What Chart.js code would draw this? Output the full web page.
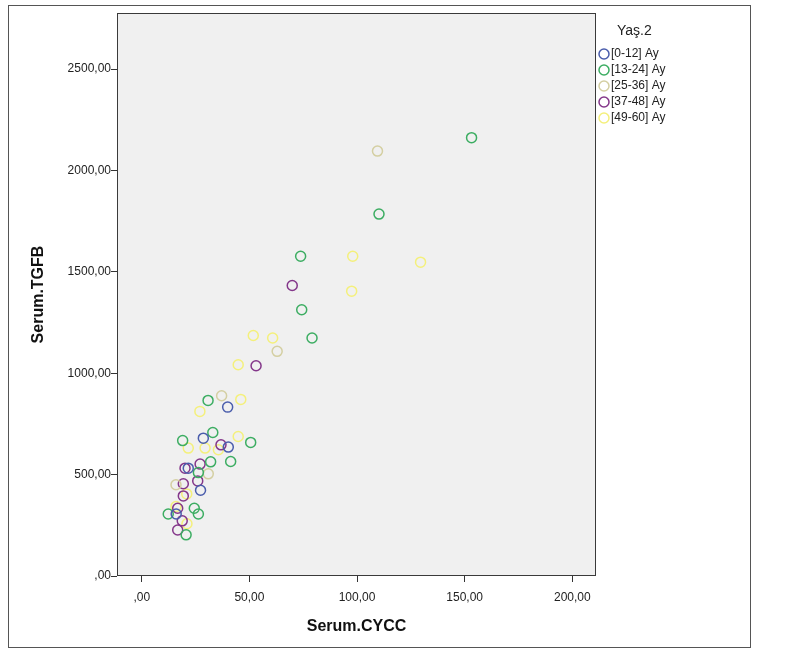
<!DOCTYPE html>
<html>
<head>
<meta charset="utf-8">
<script src="https://cdn.jsdelivr.net/npm/chart.js@4"></script>
<style>
  body { margin: 0; background: #fff; }
  #wrap { width: 786px; height: 652px; }
</style>
</head>
<body>
<div id="wrap"><canvas id="myChart" width="786" height="652"></canvas></div>
<script>
  // Yaş.2 groups (Serum.CYCC, Serum.TGFB)
  const groupLabels = ["[0-12] Ay", "[13-24] Ay", "[25-36] Ay", "[37-48] Ay", "[49-60] Ay"];
  const groupColors = ["#4a5dac", "#3cad62", "#d4cfa2", "#84378a", "#f4f07c"];

  const ay0_12 = [
    { x: 39.9, y: 833 }, { x: 28.6, y: 680 }, { x: 40.2, y: 636 },
    { x: 21.6, y: 532 }, { x: 27.3, y: 423 }, { x: 16.0, y: 306 },
  ];
  const ay13_24 = [
    { x: 153.2, y: 2162 }, { x: 110.2, y: 1785 }, { x: 73.8, y: 1577 },
    { x: 74.3, y: 1313 }, { x: 79.1, y: 1174 }, { x: 30.8, y: 866 },
    { x: 33.0, y: 708 }, { x: 19.0, y: 668 }, { x: 50.6, y: 659 },
    { x: 32.0, y: 563 }, { x: 41.3, y: 565 }, { x: 26.3, y: 510 },
    { x: 12.3, y: 306 }, { x: 24.4, y: 334 }, { x: 26.3, y: 306 },
    { x: 20.6, y: 203 },
  ];
  const ay25_36 = [
    { x: 109.5, y: 2096 }, { x: 62.9, y: 1108 }, { x: 37.1, y: 889 },
    { x: 30.9, y: 504 }, { x: 15.9, y: 450 },
  ];
  const ay37_48 = [
    { x: 69.9, y: 1433 }, { x: 53.1, y: 1037 }, { x: 36.8, y: 647 },
    { x: 20.1, y: 532 }, { x: 27.1, y: 552 }, { x: 26.0, y: 469 },
    { x: 19.3, y: 455 }, { x: 19.3, y: 395 }, { x: 16.7, y: 334 },
    { x: 18.8, y: 272 }, { x: 16.7, y: 227 },
  ];
  const ay49_60 = [
    { x: 98.0, y: 1577 }, { x: 129.5, y: 1548 }, { x: 97.5, y: 1405 },
    { x: 60.8, y: 1174 }, { x: 51.8, y: 1186 }, { x: 44.8, y: 1042 },
    { x: 46.0, y: 871 }, { x: 27.0, y: 812 }, { x: 21.6, y: 631 },
    { x: 29.4, y: 631 }, { x: 35.6, y: 623 }, { x: 44.8, y: 688 },
    { x: 20.9, y: 405 }, { x: 15.9, y: 343 }, { x: 21.0, y: 258 },
  ];

  const xTicks = [0, 50, 100, 150, 200];
  const yTicks = [0, 500, 1000, 1500, 2000, 2500];

  const fmt = (v) => (v === 0 ? ",00" : v.toFixed(2).replace(".", ","));
  const font = "'Liberation Sans', Arial, sans-serif";

  // plot background, frames and the Yaş.2 legend
  const spssFrame = {
    id: "spssFrame",
    beforeDraw(chart) {
      const { ctx, chartArea: a } = chart;
      ctx.save();
      ctx.fillStyle = "#ffffff";
      ctx.fillRect(0, 0, chart.width, chart.height);
      ctx.fillStyle = "#f0f0f0";
      ctx.fillRect(a.left, a.top, a.right - a.left, a.bottom - a.top);
      ctx.restore();
    },
    afterDraw(chart) {
      const { ctx, chartArea: a } = chart;
      ctx.save();
      ctx.strokeStyle = "#3a3a3a";
      ctx.lineWidth = 1;
      ctx.strokeRect(a.left + 0.5, a.top + 0.5, a.right - a.left - 1, a.bottom - a.top - 1);
      ctx.strokeStyle = "#555";
      ctx.strokeRect(8.5, 5.5, 742, 642);

      ctx.fillStyle = "#222";
      ctx.textBaseline = "middle";
      ctx.textAlign = "left";
      ctx.font = "14px " + font;
      ctx.fillText("Yaş.2", 617, 31);
      ctx.font = "12px " + font;
      chart.data.datasets.forEach((ds, i) => {
        const y = 54 + i * 16;
        ctx.beginPath();
        ctx.arc(604, y, 5, 0, Math.PI * 2);
        ctx.strokeStyle = ds.borderColor;
        ctx.lineWidth = 1.5;
        ctx.stroke();
        ctx.fillStyle = "#222";
        ctx.fillText(ds.label, 611, y);
      });
      ctx.restore();
    },
  };

  const groups = [ay0_12, ay13_24, ay25_36, ay37_48, ay49_60];

  new Chart(document.getElementById("myChart"), {
    type: "scatter",
    data: {
      datasets: groups.map((g, i) => ({
        label: groupLabels[i],
        data: g,
        borderColor: groupColors[i],
        backgroundColor: "rgba(0,0,0,0)",
        borderWidth: 1.5,
        pointRadius: 5,
        pointHoverRadius: 5,
      })),
    },
    options: {
      responsive: false,
      animation: false,
      layout: { padding: { left: 0, top: 13, right: 190, bottom: 0 } },
      plugins: {
        legend: { display: false },
        tooltip: { enabled: false },
      },
      scales: {
        x: {
          type: "linear",
          min: -11.5,
          max: 211,
          afterBuildTicks: (axis) => { axis.ticks = xTicks.map((v) => ({ value: v })); },
          afterFit: (axis) => { axis.height = 76; },
          grid: { drawOnChartArea: false, drawTicks: true, tickLength: 6, color: "#333" },
          border: { display: false },
          ticks: {
            callback: (v) => fmt(v),
            color: "#222",
            padding: 8,
            maxRotation: 0,
            font: { family: font, size: 12 },
          },
          title: {
            display: true,
            text: "Serum.CYCC",
            color: "#111",
            font: { family: font, size: 16, weight: "bold" },
            padding: { top: 0, bottom: 16 },
          },
        },
        y: {
          type: "linear",
          min: 0,
          max: 2777,
          afterBuildTicks: (axis) => { axis.ticks = yTicks.map((v) => ({ value: v })); },
          afterFit: (axis) => { axis.width = 117; },
          grid: { drawOnChartArea: false, drawTicks: true, tickLength: 6, color: "#333" },
          border: { display: false },
          ticks: {
            callback: (v) => fmt(v),
            color: "#222",
            padding: 0,
            font: { family: font, size: 12 },
          },
          title: {
            display: true,
            text: "Serum.TGFB",
            color: "#111",
            font: { family: font, size: 16, weight: "bold" },
            padding: { top: 29, bottom: 0 },
          },
        },
      },
    },
    plugins: [spssFrame],
  });
</script>
</body>
</html>
